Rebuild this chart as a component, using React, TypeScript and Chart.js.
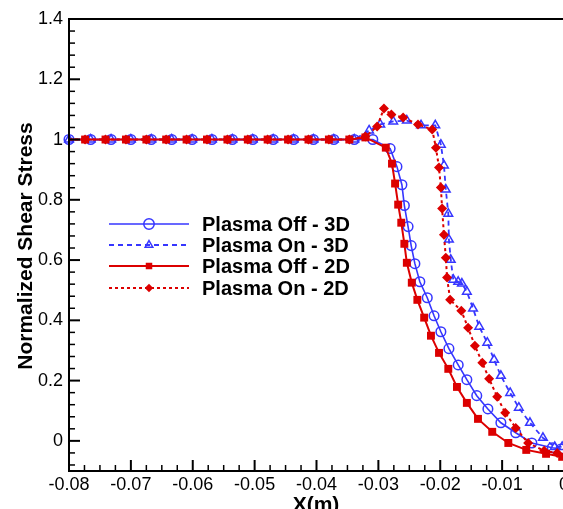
import React, { useEffect, useRef } from 'react';
import { Chart, registerables } from 'chart.js';

Chart.register(...registerables);

// ---------- axis ticks ----------
const xTickValues = [-0.08, -0.07, -0.06, -0.05, -0.04, -0.03, -0.02, -0.01, 0];
const xTickLabels = ['-0.08', '-0.07', '-0.06', '-0.05', '-0.04', '-0.03', '-0.02', '-0.01', '0'];
const yTickValues = [0, 0.2, 0.4, 0.6, 0.8, 1, 1.2, 1.4];
const yTickLabels = ['0', '0.2', '0.4', '0.6', '0.8', '1', '1.2', '1.4'];

// ---------- series ----------
const seriesNames = ['Plasma Off - 3D', 'Plasma On - 3D', 'Plasma Off - 2D', 'Plasma On - 2D'];

const off3dX = [
  -0.08, -0.0765, -0.0732, -0.07, -0.0667, -0.0634, -0.0601, -0.0569, -0.0536, -0.0503, -0.047, -0.0437,
  -0.0405, -0.0372, -0.0339, -0.0309, -0.0281, -0.027, -0.0262, -0.0258, -0.0252, -0.0247, -0.0241, -0.0233,
  -0.0221, -0.021, -0.0199, -0.0186, -0.0171, -0.0157, -0.0141, -0.0123, -0.0102, -0.0078, -0.0052, -0.0019,
  -0.0005,
];
const off3dY = [
  1, 1, 1, 1, 1, 1, 1, 1, 1, 1, 1, 1,
  1, 1, 1, 1.0, 0.97, 0.91, 0.85, 0.781, 0.711, 0.648, 0.588, 0.528,
  0.475, 0.415, 0.362, 0.306, 0.252, 0.203, 0.15, 0.106, 0.06, 0.027, -0.007, -0.023,
  -0.027,
];

const on3dX = [
  -0.08, -0.0765, -0.0732, -0.07, -0.0667, -0.0634, -0.0601, -0.0569, -0.0536, -0.0503, -0.047, -0.0437,
  -0.0405, -0.0372, -0.0339, -0.0315, -0.0297, -0.0276, -0.0254, -0.0231, -0.0208, -0.0199, -0.0194, -0.0191,
  -0.0187, -0.0186, -0.0183, -0.0179, -0.0171, -0.0165, -0.0157, -0.0147, -0.0137, -0.0124, -0.0113, -0.0102,
  -0.0087, -0.0073, -0.0055, -0.0034, -0.0015, -0.0003,
];
const on3dY = [
  1, 1, 1, 1, 1, 1, 1, 1, 1, 1, 1, 1,
  1, 1, 1, 1.03, 1.05, 1.06, 1.063, 1.047, 1.047, 0.983, 0.914, 0.834,
  0.754, 0.668, 0.601, 0.535, 0.528, 0.522, 0.495, 0.439, 0.379, 0.326, 0.269, 0.216,
  0.159, 0.11, 0.06, 0.01, -0.02, -0.02,
];

const off2dX = [
  -0.08, -0.0774, -0.0741, -0.0708, -0.0675, -0.0643, -0.061, -0.0577, -0.0544, -0.0511, -0.0479, -0.0446,
  -0.0413, -0.038, -0.0347, -0.0321, -0.0288, -0.0278, -0.0273, -0.0268, -0.0263, -0.0258, -0.0254, -0.0246,
  -0.0237, -0.0226, -0.0215, -0.0202, -0.0187, -0.0173, -0.0157, -0.0139, -0.0116, -0.009, -0.0061, -0.0029,
  -0.0003,
];
const off2dY = [
  1, 1, 1, 1, 1, 1, 1, 1, 1, 1, 1, 1,
  1, 1, 1, 1.007, 0.973, 0.92, 0.854, 0.784, 0.724, 0.654, 0.591, 0.525,
  0.468, 0.409, 0.349, 0.292, 0.239, 0.179, 0.126, 0.073, 0.03, -0.007, -0.03, -0.043,
  -0.053,
];

const on2dX = [
  -0.08, -0.0774, -0.0741, -0.0708, -0.0675, -0.0643, -0.061, -0.0577, -0.0544, -0.0511, -0.0479, -0.0446,
  -0.0413, -0.038, -0.0347, -0.0321, -0.0302, -0.0291, -0.0279, -0.026, -0.0236, -0.0213, -0.0207, -0.0202,
  -0.0199, -0.0197, -0.0194, -0.0191, -0.0189, -0.0184, -0.0166, -0.0155, -0.0144, -0.0132, -0.0121, -0.0108,
  -0.0095, -0.0078, -0.0058, -0.0032, -0.0011,
];
const on2dY = [
  1, 1, 1, 1, 1, 1, 1, 1, 1, 1, 1, 1,
  1, 1, 1, 1.01, 1.043, 1.103, 1.083, 1.073, 1.05, 1.033, 0.973, 0.907,
  0.841, 0.771, 0.684, 0.608, 0.542, 0.468, 0.432, 0.375, 0.316, 0.259, 0.206, 0.146,
  0.093, 0.043, -0.007, -0.033, -0.04,
];

const BLUE = '#3636ff';
const RED = '#dc0000';
const FONT = '"Liberation Sans", Arial, Helvetica, sans-serif';

type Style = { name: string; color: string; dash: number[]; lw: number; marker: string; r: number; fill: boolean; legendR: number };
const styles: Style[] = [
  { name: seriesNames[0], color: BLUE, dash: [], lw: 1.6, marker: 'circle', r: 4.8, fill: false, legendR: 5.2 },
  { name: seriesNames[1], color: BLUE, dash: [5, 4], lw: 1.8, marker: 'triangle', r: 5, fill: false, legendR: 4.4 },
  { name: seriesNames[2], color: RED, dash: [], lw: 2, marker: 'rect', r: 5.6, fill: true, legendR: 4.6 },
  { name: seriesNames[3], color: RED, dash: [3, 3], lw: 2, marker: 'rectRot', r: 5, fill: true, legendR: 4.2 },
];

function drawMarker(ctx: CanvasRenderingContext2D, s: Style, x: number, y: number, r: number) {
  ctx.save();
  ctx.setLineDash([]);
  ctx.beginPath();
  if (s.marker === 'circle') {
    ctx.arc(x, y, r, 0, Math.PI * 2);
  } else if (s.marker === 'triangle') {
    let a = 0;
    ctx.moveTo(x + Math.sin(a) * r, y - Math.cos(a) * r);
    a += (2 * Math.PI) / 3;
    ctx.lineTo(x + Math.sin(a) * r, y - Math.cos(a) * r);
    a += (2 * Math.PI) / 3;
    ctx.lineTo(x + Math.sin(a) * r, y - Math.cos(a) * r);
    ctx.closePath();
  } else if (s.marker === 'rect') {
    const h = Math.SQRT1_2 * r;
    ctx.rect(x - h, y - h, 2 * h, 2 * h);
  } else {
    ctx.moveTo(x, y - r);
    ctx.lineTo(x + r, y);
    ctx.lineTo(x, y + r);
    ctx.lineTo(x - r, y);
    ctx.closePath();
  }
  if (s.fill) {
    ctx.fillStyle = s.color;
    ctx.fill();
  } else {
    ctx.strokeStyle = s.color;
    ctx.lineWidth = 1.5;
    ctx.stroke();
  }
  ctx.restore();
}

const framePlugin = {
  id: 'frameTicks',
  afterDraw(chart: any) {
    const ctx: CanvasRenderingContext2D = chart.ctx;
    const { left, right, top, bottom } = chart.chartArea;
    const xs = chart.scales.x;
    const ys = chart.scales.y;
    ctx.save();
    ctx.strokeStyle = '#000';
    const xMinor: number[] = [];
    for (let i = 0; i < xTickValues.length - 1; i++) {
      const a = xTickValues[i], b = xTickValues[i + 1];
      for (let k = 1; k < 4; k++) xMinor.push(a + ((b - a) * k) / 4);
    }
    ctx.lineWidth = 2;
    xTickValues.forEach((v) => {
      const px = xs.getPixelForValue(v);
      ctx.beginPath();
      ctx.moveTo(px, bottom);
      ctx.lineTo(px, bottom - 11);
      ctx.stroke();
    });
    ctx.lineWidth = 1.5;
    xMinor.forEach((v) => {
      const px = xs.getPixelForValue(v);
      ctx.beginPath();
      ctx.moveTo(px, bottom);
      ctx.lineTo(px, bottom - 6);
      ctx.stroke();
    });
    const yMinor: number[] = [];
    const yAll = [-0.2, ...yTickValues];
    for (let i = 0; i < yAll.length - 1; i++) {
      const a = yAll[i], b = yAll[i + 1];
      for (let k = 1; k < 5; k++) {
        const v = a + ((b - a) * k) / 5;
        if (v > -0.1) yMinor.push(v);
      }
    }
    ctx.lineWidth = 2;
    yTickValues.forEach((v) => {
      const py = ys.getPixelForValue(v);
      ctx.beginPath();
      ctx.moveTo(left, py);
      ctx.lineTo(left + 11, py);
      ctx.stroke();
    });
    ctx.lineWidth = 1.5;
    yMinor.forEach((v) => {
      const py = ys.getPixelForValue(v);
      ctx.beginPath();
      ctx.moveTo(left, py);
      ctx.lineTo(left + 6, py);
      ctx.stroke();
    });
    ctx.lineWidth = 2;
    ctx.strokeRect(left, top, right - left, bottom - top);

    // axis titles
    ctx.fillStyle = '#000';
    ctx.font = `bold 21px ${FONT}`;
    ctx.textAlign = 'center';
    ctx.textBaseline = 'alphabetic';
    ctx.fillText('X(m)', 316, 511);
    ctx.save();
    ctx.translate(32, 246);
    ctx.rotate(-Math.PI / 2);
    ctx.fillText('Normalized Shear Stress', 0, 0);
    ctx.restore();

    // legend
    const rows = [224, 245, 266, 288];
    styles.forEach((s, i) => {
      const y = rows[i];
      ctx.save();
      ctx.strokeStyle = s.color;
      ctx.lineWidth = s.lw;
      ctx.setLineDash(s.dash);
      ctx.beginPath();
      ctx.moveTo(109, y);
      ctx.lineTo(189, y);
      ctx.stroke();
      ctx.restore();
      drawMarker(ctx, s, 149, y, s.legendR);
      ctx.fillStyle = '#000';
      ctx.font = `bold 20px ${FONT}`;
      ctx.textAlign = 'left';
      ctx.textBaseline = 'middle';
      ctx.fillText(s.name, 202, y + 1);
    });
    ctx.restore();
  },
};

function pts(xs: number[], ys: number[]) {
  return xs.map((x, i) => ({ x, y: ys[i] }));
}

export default function App() {
  const ref = useRef<HTMLCanvasElement | null>(null);
  useEffect(() => {
    if (!ref.current) return;
    const data = [pts(off3dX, off3dY), pts(on3dX, on3dY), pts(off2dX, off2dY), pts(on2dX, on2dY)];
    const orders = [4, 3, 2, 1];
    const chart = new Chart(ref.current, {
      type: 'line',
      data: {
        datasets: styles.map((s, i) => ({
          label: s.name,
          data: data[i],
          borderColor: s.color,
          borderWidth: s.lw,
          borderDash: s.dash,
          backgroundColor: s.fill ? s.color : 'rgba(0,0,0,0)',
          pointBackgroundColor: s.fill ? s.color : 'rgba(0,0,0,0)',
          pointBorderColor: s.color,
          pointBorderWidth: s.fill ? 0 : 1.5,
          pointStyle: s.marker,
          pointRadius: (c: any) => (s.fill && c.dataIndex === 0 ? 0 : s.r),
          pointHoverRadius: s.r,
          tension: 0,
          fill: false,
          clip: false as any,
          order: orders[i],
        })),
      },
      options: {
        animation: false,
        responsive: false,
        devicePixelRatio: 1,
        events: [],
        layout: { padding: { left: 0, right: 36, top: 19, bottom: 0 } },
        plugins: { legend: { display: false }, tooltip: { enabled: false }, title: { display: false } },
        scales: {
          x: {
            type: 'linear',
            min: -0.08,
            max: 0,
            grid: { display: false, drawTicks: false, tickLength: 0 },
            border: { display: false },
            afterBuildTicks: (scale: any) => {
              scale.ticks = xTickValues.map((v) => ({ value: v }));
            },
            afterFit: (scale: any) => {
              scale.height = 49;
            },
            ticks: {
              autoSkip: false,
              maxRotation: 0,
              padding: 3,
              color: '#000',
              font: { family: FONT, size: 18 },
              callback: (_v: any, i: number) => xTickLabels[i],
            },
          },
          y: {
            type: 'linear',
            min: -0.1,
            max: 1.4,
            grid: { display: false, drawTicks: false, tickLength: 0 },
            border: { display: false },
            afterBuildTicks: (scale: any) => {
              scale.ticks = yTickValues.map((v) => ({ value: v }));
            },
            afterFit: (scale: any) => {
              scale.width = 69;
            },
            ticks: {
              padding: 6,
              color: '#000',
              font: { family: FONT, size: 18 },
              callback: (_v: any, i: number) => yTickLabels[i],
            },
          },
        },
      },
      plugins: [framePlugin],
    } as any);
    return () => chart.destroy();
  }, []);
  return (
    <div style={{ position: 'fixed', left: 0, top: 0, width: 563, height: 509, overflow: 'hidden', background: '#fff' }}>
      <canvas ref={ref} width={600} height={520} style={{ width: 600, height: 520, display: 'block' }} />
    </div>
  );
}
